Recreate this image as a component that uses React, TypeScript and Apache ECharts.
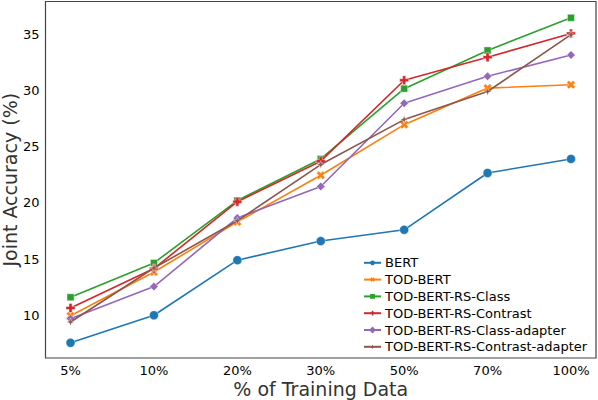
import React, { useEffect, useRef } from "react";
import * as echarts from "echarts";

const categories = ["5%", "10%", "20%", "30%", "50%", "70%", "100%"];
const yTicks = [10, 15, 20, 25, 30, 35];

const bert = [7.55, 10.0, 14.9, 16.6, 17.6, 22.65, 23.9];
const todBert = [9.95, 13.85, 18.3, 22.45, 26.95, 30.2, 30.5];
const rsClass = [11.6, 14.65, 20.2, 23.9, 30.15, 33.55, 36.45];
const rsContrast = [10.65, 14.15, 20.1, 23.7, 30.9, 32.95, 35.05];
const rsClassAdapter = [9.7, 12.55, 18.65, 21.45, 28.85, 31.25, 33.15];
const rsContrastAdapter = [9.4, 14.2, 18.4, 23.4, 27.4, 29.9, 34.95];

const seriesNames = [
  "BERT",
  "TOD-BERT",
  "TOD-BERT-RS-Class",
  "TOD-BERT-RS-Contrast",
  "TOD-BERT-RS-Class-adapter",
  "TOD-BERT-RS-Contrast-adapter",
];
const seriesValues = [bert, todBert, rsClass, rsContrast, rsClassAdapter, rsContrastAdapter];
const colors = ["#1f77b4", "#ff7f0e", "#2ca02c", "#d62728", "#9467bd", "#8c564b"];

const PLUS = "path://M3.3,0 H6.7 V3.3 H10 V6.7 H6.7 V10 H3.3 V6.7 H0 V3.3 H3.3 Z";
const STAR4 = "path://M5,0 L6.3,3.7 L10,5 L6.3,6.3 L5,10 L3.7,6.3 L0,5 L3.7,3.7 Z";

const markerSpecs = [
  { symbol: "circle", size: 9, rotate: 0 },
  { symbol: PLUS, size: 9, rotate: 45 },
  { symbol: "rect", size: 7, rotate: 0 },
  { symbol: PLUS, size: 9, rotate: 0 },
  { symbol: "rect", size: 6, rotate: 45 },
  { symbol: STAR4, size: 8, rotate: 0 },
];

const FONT = "DejaVu Sans";

export default function App() {
  const ref = useRef<HTMLDivElement>(null);
  useEffect(() => {
    document.body.style.margin = "0";
    const chart = echarts.init(ref.current!, null, { renderer: "svg" });
    chart.setOption({
      animation: false,
      backgroundColor: "#ffffff",
      textStyle: { fontFamily: FONT },
      grid: {
        left: 45.5,
        right: 2,
        top: 1.5,
        bottom: 42,
        show: true,
        borderColor: "#444444",
        borderWidth: 1.2,
        containLabel: false,
        outerBoundsMode: "none",
      },
      legend: {
        orient: "vertical",
        left: 358,
        top: 251.3,
        itemWidth: 17,
        itemHeight: 6,
        itemGap: 3.8,
        itemStyle: { borderWidth: 0 },
        textStyle: { fontFamily: FONT, fontSize: 13, color: "#000", padding: [0, 0, 0, -1] },
        data: seriesNames,
      },
      xAxis: {
        type: "value",
        min: -0.3,
        max: 6.3,
        axisLine: { show: false },
        axisTick: { show: false },
        splitLine: { show: false },
        axisLabel: {
          customValues: categories.map((_, i) => i),
          formatter: (v: number) => categories[Math.round(v)] ?? "",
          fontFamily: FONT,
          fontSize: 13,
          color: "#000",
          margin: 6,
        },
        name: "% of Training Data",
        nameLocation: "middle",
        nameGap: 21,
        nameMoveOverlap: false,
        nameTextStyle: { fontFamily: FONT, fontSize: 19, color: "#333" },
      },
      yAxis: {
        type: "value",
        min: 6.2,
        max: 37.9,
        axisLine: { show: false },
        axisTick: { show: false },
        splitLine: { show: false },
        axisLabel: {
          customValues: yTicks,
          fontFamily: FONT,
          fontSize: 13,
          color: "#000",
          margin: 6,
        },
        name: "Joint Accuracy (%)",
        nameLocation: "middle",
        nameGap: 26,
        nameMoveOverlap: false,
        nameTextStyle: { fontFamily: FONT, fontSize: 19, color: "#333" },
      },
      series: seriesNames.map((name, k) => ({
        name,
        type: "line",
        data: seriesValues[k].map((v, i) => [i, v]),
        symbol: markerSpecs[k].symbol,
        symbolSize: markerSpecs[k].size,
        symbolRotate: markerSpecs[k].rotate,
        showSymbol: true,
        lineStyle: { color: colors[k], width: 1.6 },
        itemStyle: { color: colors[k], borderColor: "#ffffff", borderWidth: 0.4 },
        emphasis: { disabled: true },
        z: 2 + k,
      })),
    });
    return () => chart.dispose();
  }, []);
  return <div ref={ref} style={{ width: 598, height: 400 }} />;
}
